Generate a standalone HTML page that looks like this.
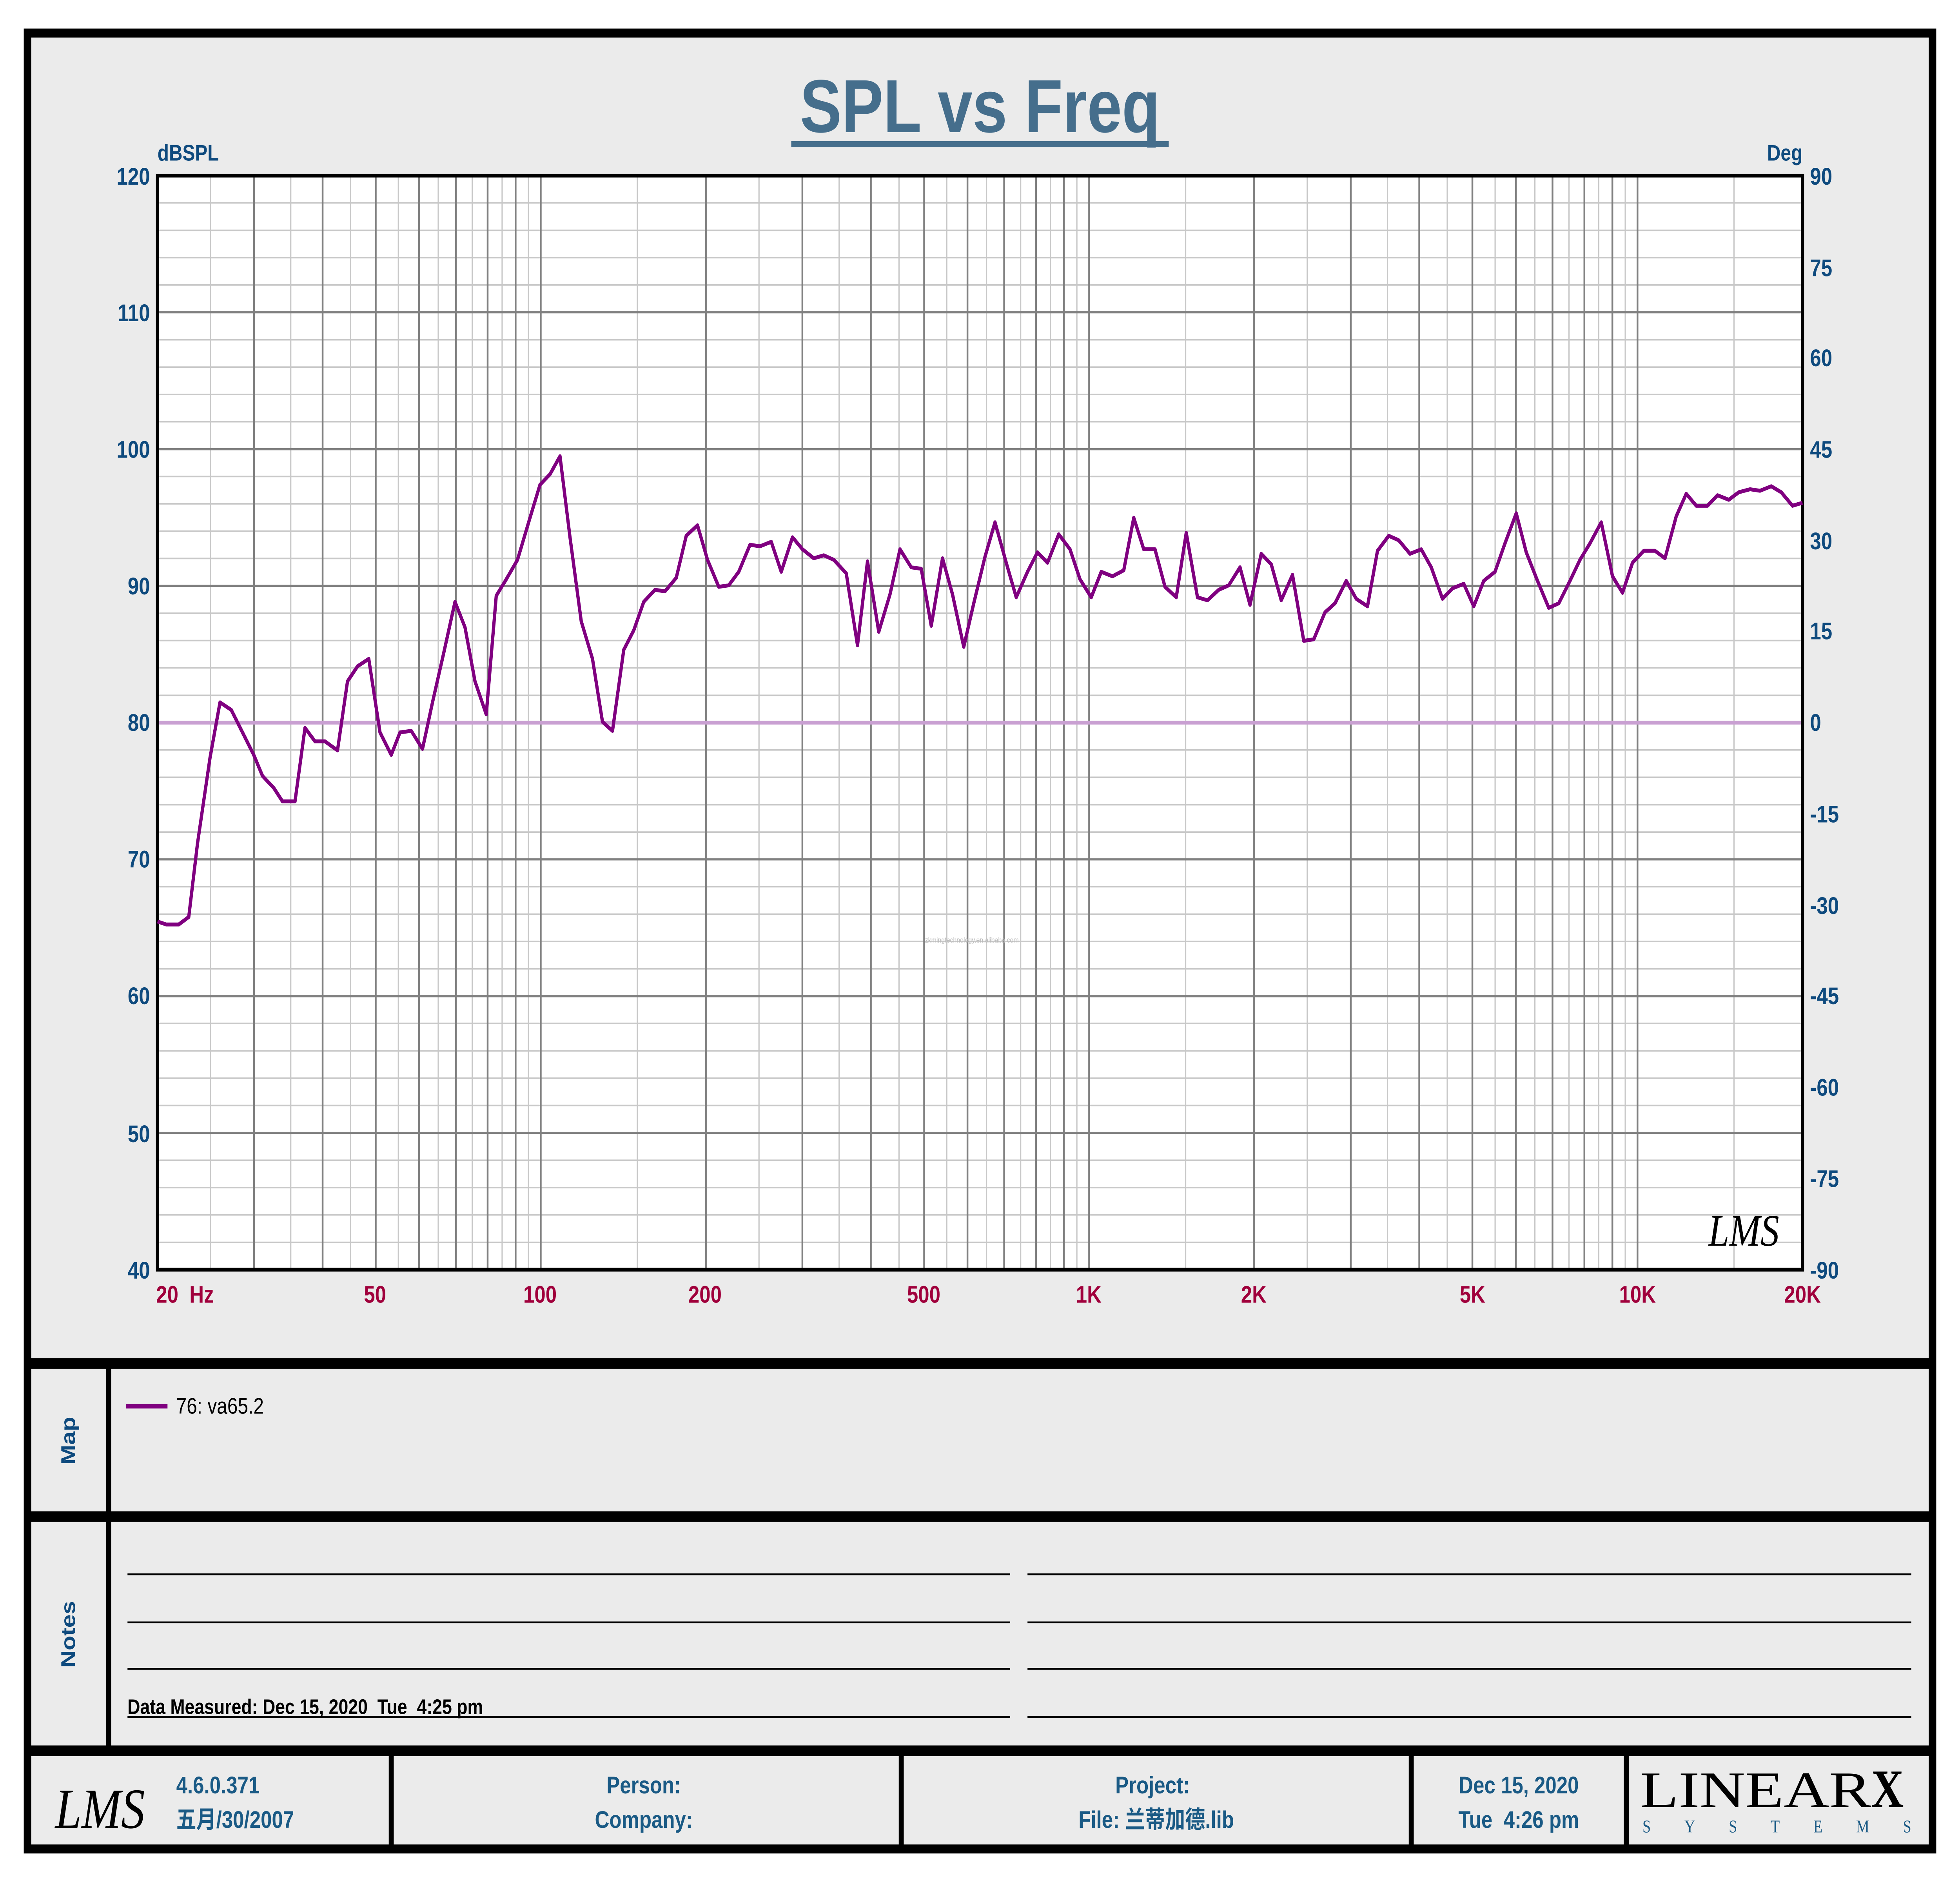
<!DOCTYPE html>
<html><head><meta charset="utf-8"><style>html,body{margin:0;padding:0;background:#fff;width:100%;height:100%;overflow:hidden}svg{display:block;width:100vw;height:100vh}</style></head>
<body>
<svg xmlns="http://www.w3.org/2000/svg" viewBox="0 0 1568 1254" preserveAspectRatio="none" font-family="Liberation Sans, Noto Sans CJK SC, sans-serif">
<rect x="0" y="0" width="1568" height="1254" fill="#fff"/>
<rect x="22" y="22" width="1524" height="1210" fill="#ebebeb" stroke="#000" stroke-width="6"/>
<text x="784" y="88" text-anchor="middle" font-size="50" font-weight="bold" fill="#456e8c">SPL vs Freq</text>
<rect x="633" y="94" width="302" height="4" fill="#456e8c"/>
<text x="126" y="107" font-size="15" font-weight="bold" fill="#0e4a7e">dBSPL</text>
<text x="1442" y="107" font-size="15" font-weight="bold" fill="#0e4a7e" text-anchor="end">Deg</text>
<rect x="126" y="117" width="1316" height="729" fill="#fff"/>
<g stroke="#c8c8c8" stroke-width="1">
<path d="M126 135.2H1442M126 153.5H1442M126 171.7H1442M126 189.9H1442M126 226.4H1442M126 244.6H1442M126 262.8H1442M126 281H1442M126 317.5H1442M126 335.7H1442M126 353.9H1442M126 372.1H1442M126 408.6H1442M126 426.8H1442M126 445H1442M126 463.3H1442M126 499.7H1442M126 517.9H1442M126 536.2H1442M126 554.4H1442M126 590.8H1442M126 609.1H1442M126 627.3H1442M126 645.5H1442M126 681.9H1442M126 700.2H1442M126 718.4H1442M126 736.6H1442M126 773.1H1442M126 791.3H1442M126 809.5H1442M126 827.8H1442"/>
<path d="M168.5 117V846M232.6 117V846M280.5 117V846M318.7 117V846M350.6 117V846M377.8 117V846M401.7 117V846M422.8 117V846M509.9 117V846M607.2 117V846M671.3 117V846M719.2 117V846M757.4 117V846M789.2 117V846M816.5 117V846M840.3 117V846M861.5 117V846M948.5 117V846M1045.8 117V846M1110 117V846M1157.8 117V846M1196.1 117V846M1227.9 117V846M1255.2 117V846M1279 117V846M1300.2 117V846M1387.2 117V846"/>
</g>
<g stroke="#808080" stroke-width="1.4">
<path d="M126 208.1H1442M126 299.3H1442M126 390.4H1442M126 572.6H1442M126 663.8H1442M126 754.9H1442"/>
<path d="M203.2 117V846M258.1 117V846M300.6 117V846M335.3 117V846M364.7 117V846M390.1 117V846M412.5 117V846M432.6 117V846M564.7 117V846M641.9 117V846M696.7 117V846M739.3 117V846M774 117V846M803.3 117V846M828.8 117V846M851.2 117V846M871.3 117V846M1003.3 117V846M1080.6 117V846M1135.4 117V846M1177.9 117V846M1212.7 117V846M1242 117V846M1267.5 117V846M1289.9 117V846M1310 117V846"/>
</g>
<line x1="126" y1="481.5" x2="1442" y2="481.5" stroke="#c9a0d2" stroke-width="2.5"/>
<rect x="126" y="117" width="1316" height="729" fill="none" stroke="#000" stroke-width="2.5"/>
<text x="740" y="628" font-size="5" fill="#bbb">zkmingtechnology.en.alibaba.com</text>
<polyline fill="none" stroke="#800080" stroke-width="2.6" stroke-linejoin="round" points="126,614 133,616 143,616 151,611 158,562 168,505 176,468 185,473 194,488 203,503 210,517 219,525 226,534 236,534 244,485 252,494 260,494 270,500 278,454 286,444 295,439 304,488 313,503 320,488 329,487 338,499 346,468 355,435 364,401 372,418 380,454 389,476 397,397 405,386 414,373 424,345 432,323 440,316 448,304 456,358 465,414 474,439 482,481 490,487 499,433 507,420 515,401 524,393 532,394 541,385 549,357 558,350 566,373 575,391 583,390 591,381 600,363 608,364 617,361 625,381 634,358 642,366 651,372 659,370 667,373 677,382 686,430 694,374 703,421 712,396 720,366 729,378 737,379 745,417 754,372 762,396 771,431 779,402 788,371 796,348 805,375 813,398 822,381 830,368 838,375 847,356 856,366 864,386 873,398 881,381 890,384 899,380 907,345 915,366 924,366 932,391 941,398 949,355 958,398 966,400 975,393 983,390 992,378 1000,403 1009,369 1017,376 1025,400 1034,383 1043,427 1051,426 1060,408 1068,402 1077,387 1085,399 1094,404 1102,367 1111,357 1119,360 1128,369 1137,366 1145,378 1154,399 1162,392 1171,389 1179,404 1187,387 1196,381 1204,362 1213,342 1221,368 1230,387 1239,405 1247,402 1256,387 1264,373 1272,362 1281,348 1290,384 1298,395 1306,375 1315,367 1324,367 1332,372 1341,344 1349,329 1357,337 1366,337 1374,330 1383,333 1391,328 1400,326 1408,327 1417,324 1425,328 1434,337 1442,335"/>
<text x="1395" y="830" font-size="30" font-style="italic" font-family="Liberation Serif, serif" text-anchor="middle" fill="#000">LMS</text>
<g font-size="16" font-weight="bold" fill="#0e4a7e" text-anchor="end">
<text x="120" y="123">120</text><text x="120" y="214">110</text><text x="120" y="305">100</text><text x="120" y="396">90</text><text x="120" y="487">80</text><text x="120" y="578">70</text><text x="120" y="669">60</text><text x="120" y="761">50</text><text x="120" y="852">40</text>
</g>
<g font-size="16" font-weight="bold" fill="#0e4a7e" text-anchor="start">
<text x="1448" y="123">90</text><text x="1448" y="184">75</text><text x="1448" y="244">60</text><text x="1448" y="305">45</text><text x="1448" y="366">30</text><text x="1448" y="426">15</text><text x="1448" y="487">0</text><text x="1448" y="548">-15</text><text x="1448" y="609">-30</text><text x="1448" y="669">-45</text><text x="1448" y="730">-60</text><text x="1448" y="791">-75</text><text x="1448" y="852">-90</text>
</g>
<g font-size="16" font-weight="bold" fill="#a0003c" text-anchor="middle">
<text x="148" y="868" xml:space="preserve">20  Hz</text><text x="300" y="868">50</text><text x="432" y="868">100</text><text x="564" y="868">200</text><text x="739" y="868">500</text><text x="871" y="868">1K</text><text x="1003" y="868">2K</text><text x="1178" y="868">5K</text><text x="1310" y="868">10K</text><text x="1442" y="868">20K</text>
</g>
<rect x="22" y="905" width="1524" height="7" fill="#000"/>
<rect x="22" y="1007" width="1524" height="7" fill="#000"/>
<rect x="22" y="1163" width="1524" height="7" fill="#000"/>
<rect x="85" y="908" width="4" height="258" fill="#000"/>
<text transform="translate(60,960) rotate(-90)" font-size="16" font-weight="bold" fill="#0e4a7e" text-anchor="middle">Map</text>
<text transform="translate(60,1089) rotate(-90)" font-size="16" font-weight="bold" fill="#0e4a7e" text-anchor="middle">Notes</text>
<line x1="101" y1="937" x2="134" y2="937" stroke="#800080" stroke-width="3"/>
<text x="141" y="942" font-size="15" fill="#000">76: va65.2</text>
<g stroke="#000" stroke-width="1.2">
<path d="M102 1049H808M102 1081H808M102 1112H808M102 1144H808M822 1049H1529M822 1081H1529M822 1112H1529M822 1144H1529"/>
</g>
<text x="102" y="1142" font-size="14" font-weight="bold" fill="#000" xml:space="preserve">Data Measured: Dec 15, 2020  Tue  4:25 pm</text>
<g fill="#000"><rect x="311" y="1166" width="4" height="64"/><rect x="719" y="1166" width="4" height="64"/><rect x="1127" y="1166" width="4" height="64"/><rect x="1299" y="1166" width="4" height="64"/></g>
<text x="80" y="1218" font-size="38" font-style="italic" font-family="Liberation Serif, serif" text-anchor="middle" fill="#000">LMS</text>
<g font-size="16" font-weight="bold" fill="#1a5a85">
<text x="141" y="1195">4.6.0.371</text>
<text x="141" y="1218">五月/30/2007</text>
<text x="515" y="1195" text-anchor="middle">Person:</text>
<text x="515" y="1218" text-anchor="middle">Company:</text>
<text x="922" y="1195" text-anchor="middle">Project:</text>
<text x="925" y="1218" text-anchor="middle">File: 兰蒂加德.lib</text>
<text x="1215" y="1195" text-anchor="middle">Dec 15, 2020</text>
<text x="1215" y="1218" text-anchor="middle" xml:space="preserve">Tue  4:26 pm</text>
</g>
<text x="1312" y="1204" font-size="34" font-family="Liberation Serif, serif" fill="#000" textLength="185" lengthAdjust="spacingAndGlyphs">LINEAR</text>
<text x="1497" y="1204" font-size="36" font-weight="bold" font-family="Liberation Serif, serif" fill="#000">X</text>
<text x="1314" y="1221" font-size="12" font-family="Liberation Serif, serif" fill="#1a5a85" textLength="215" lengthAdjust="spacing">SYSTEMS</text>
</svg>
</body></html>
